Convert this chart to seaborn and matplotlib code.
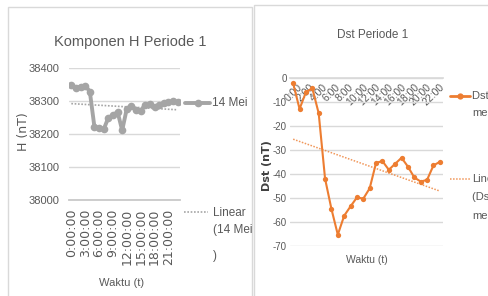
import numpy as np
import matplotlib
matplotlib.use("Agg")
import matplotlib.pyplot as plt
import seaborn as sns
from matplotlib.lines import Line2D
from matplotlib.patches import Rectangle

# data
jam = list(range(24))
h_14mei = [38350, 38342, 38345, 38348, 38330, 38222, 38218, 38215,
           38250, 38258, 38268, 38212, 38278, 38285, 38275, 38272,
           38290, 38292, 38282, 38288, 38295, 38298, 38300, 38298]
dst_14mei = [-2.4, -13.0, -6.0, -4.4, -14.8, -42.0, -54.6, -65.3,
             -57.4, -53.5, -49.8, -50.3, -46.0, -35.4, -34.7, -38.3,
             -35.8, -33.3, -37.0, -41.5, -43.2, -42.5, -36.5, -35.0]
h_ticks = [0, 3, 6, 9, 12, 15, 18, 21]
h_ticklabels = ["0:00:00", "3:00:00", "6:00:00", "9:00:00",
                "12:00:00", "15:00:00", "18:00:00", "21:00:00"]
h_yticks = [38000, 38100, 38200, 38300, 38400]
dst_ticks = list(range(0, 24, 2))
dst_ticklabels = [f"{t}:00" for t in dst_ticks]
dst_yticks = [0, -10, -20, -30, -40, -50, -60, -70]

sns.set_theme(style="white")
plt.rcParams['font.family'] = ['Liberation Sans', 'DejaVu Sans']

W, H = 488, 296
fig = plt.figure(figsize=(W / 100, H / 100), dpi=100)
fig.patch.set_facecolor("white")


def fx(x):
    return x / W


def fy(y):
    return 1 - y / H


TXT = "#595959"
GRID = "#d9d9d9"
GRAY = "#a5a5a5"
ORANGE = "#ed7d31"

# panel borders
fig.add_artist(Rectangle((fx(8), fy(300)), fx(252) - fx(8), fy(7) - fy(300),
                         transform=fig.transFigure, fill=False, ec=GRID, lw=1))
fig.add_artist(Rectangle((fx(253.5), fy(300)), fx(500) - fx(253.5), fy(5.5) - fy(300),
                         transform=fig.transFigure, fill=False, ec=GRID, lw=1))

# ---------- left: Komponen H ----------
ax1 = fig.add_axes([fx(69), fy(200), fx(180) - fx(69), fy(68.5) - fy(200)])
sns.lineplot(x=jam, y=h_14mei, ax=ax1, color=GRAY, lw=2.8, marker="o",
             markersize=5.5, markeredgewidth=0)
sns.regplot(x=jam, y=h_14mei, ax=ax1, scatter=False, ci=None, truncate=True,
            line_kws=dict(color=GRAY, lw=1.2, linestyle=(0, (1, 1))))
ax1.set_xlim(-0.5, 23.5)
ax1.set_ylim(38000, 38400)
ax1.set_yticks(h_yticks)
ax1.set_yticklabels([str(v) for v in h_yticks], fontsize=8, color=TXT)
ax1.set_xticks(h_ticks)
ax1.set_xticklabels(h_ticklabels, rotation=90, fontsize=9, color=TXT,
                    family=['DejaVu Sans'])
ax1.tick_params(axis="x", length=0, pad=6)
ax1.tick_params(axis="y", length=0, pad=7)
ax1.yaxis.grid(True, color=GRID, lw=1)
ax1.set_axisbelow(True)
for s in ["top", "right", "left"]:
    ax1.spines[s].set_visible(False)
ax1.spines["bottom"].set_color("#c9c9c9")
ax1.spines["bottom"].set_linewidth(1.3)
ax1.set_xlabel("")
ax1.set_ylabel("")
ax1.set_facecolor("none")

fig.text(fx(130), fy(42), "Komponen H Periode 1", ha="center", va="center",
         fontsize=10.5, color=TXT)
fig.text(fx(24), fy(132), "H (nT)", rotation=90, ha="center", va="center",
         fontsize=9, color=TXT, family=['DejaVu Sans'])
fig.text(fx(122), fy(283), "Waktu (t)", ha="center", va="center",
         fontsize=8, color=TXT)

# legend left
fig.add_artist(Line2D([fx(185), fx(210)], [fy(103), fy(103)], color=GRAY, lw=2.8,
                      transform=fig.transFigure))
fig.add_artist(Line2D([fx(197.5)], [fy(103)], color=GRAY, marker="o", markersize=5.5,
                      markeredgewidth=0, transform=fig.transFigure))
fig.text(fx(212), fy(103), "14 Mei", ha="left", va="center", fontsize=8.5, color=TXT)
fig.add_artist(Line2D([fx(184), fx(208)], [fy(212), fy(212)], color=GRAY, lw=1.2,
                      linestyle=(0, (1, 1)), transform=fig.transFigure))
fig.text(fx(213), fy(213), "Linear", ha="left", va="center", fontsize=8.5, color=TXT)
fig.text(fx(213), fy(230), "(14 Mei", ha="left", va="center", fontsize=8.5, color=TXT)
fig.text(fx(213), fy(256), ")", ha="left", va="center", fontsize=8.5, color=TXT)

# ---------- right: Dst ----------
ax2 = fig.add_axes([fx(290), fy(246), fx(443) - fx(290), fy(77.7) - fy(246)])
sns.lineplot(x=jam, y=dst_14mei, ax=ax2, color=ORANGE, lw=1.5, marker="o",
             markersize=3.8, markeredgewidth=0)
sns.regplot(x=jam, y=dst_14mei, ax=ax2, scatter=False, ci=None, truncate=True,
            line_kws=dict(color=ORANGE, lw=1.1, linestyle=(0, (1, 1)), alpha=0.8))
# spine position first: it resets the tick objects
ax2.spines["bottom"].set_position(("data", 0))
ax2.spines["bottom"].set_color(GRID)
for s in ["top", "right", "left"]:
    ax2.spines[s].set_visible(False)
ax2.set_xlim(-0.5, 23.5)
ax2.set_ylim(-70, 0)
ax2.set_yticks(dst_yticks)
ax2.set_yticklabels([str(v) for v in dst_yticks], fontsize=7, color=TXT)
ax2.set_xticks(dst_ticks)
ax2.set_xticklabels(dst_ticklabels, rotation=45, ha="center", fontsize=7.5, color=TXT)
ax2.tick_params(axis="x", length=0, pad=3)
ax2.tick_params(axis="y", length=0, pad=2.5)
ax2.yaxis.grid(True, color=GRID, lw=1)
ax2.set_axisbelow(True)
ax2.set_xlabel("")
ax2.set_ylabel("")
ax2.set_facecolor("none")

fig.text(fx(373), fy(35), "Dst Periode 1", ha="center", va="center",
         fontsize=8.5, color=TXT)
fig.text(fx(267), fy(166), "Dst (nT)", rotation=90, ha="center", va="center",
         fontsize=8, color="#404040", fontweight="bold", family=['DejaVu Sans'])
fig.text(fx(367), fy(260), "Waktu (t)", ha="center", va="center",
         fontsize=7.5, color=TXT)

# legend right
fig.add_artist(Line2D([fx(450), fx(470)], [fy(96), fy(96)], color=ORANGE, lw=2,
                      transform=fig.transFigure))
fig.add_artist(Line2D([fx(460)], [fy(96)], color=ORANGE, marker="o", markersize=4.5,
                      markeredgewidth=0, transform=fig.transFigure))
fig.text(fx(472), fy(96), "Dst 14", ha="left", va="center", fontsize=8, color=TXT)
fig.text(fx(472), fy(113), "mei", ha="left", va="center", fontsize=8, color=TXT)
fig.add_artist(Line2D([fx(450), fx(470)], [fy(179), fy(179)], color=ORANGE, lw=1.1,
                      linestyle=(0, (1, 1)), alpha=0.8, transform=fig.transFigure))
fig.text(fx(472), fy(179), "Linear", ha="left", va="center", fontsize=8, color=TXT)
fig.text(fx(472), fy(197), "(Dst 14", ha="left", va="center", fontsize=8, color=TXT)
fig.text(fx(472), fy(216), "mei)", ha="left", va="center", fontsize=8, color=TXT)

fig.savefig("out.png", dpi=100)
